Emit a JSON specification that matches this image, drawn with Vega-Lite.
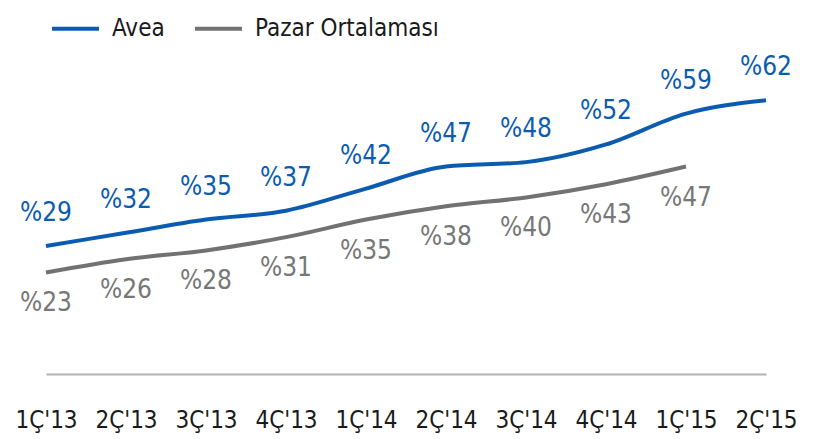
{
  "$schema": "https://vega.github.io/schema/vega-lite/v6.json",
  "autosize": "none",
  "width": 720,
  "height": 309,
  "padding": {"left": 46, "top": 65, "right": 51, "bottom": 65},
  "background": "white",
  "config": {"view": {"stroke": null}, "font": "DejaVu Sans Condensed, Roboto"},
  "data": {"values": [
    {"q": "1Ç'13", "s": "Avea", "v": 29},
    {"q": "2Ç'13", "s": "Avea", "v": 32},
    {"q": "3Ç'13", "s": "Avea", "v": 35},
    {"q": "4Ç'13", "s": "Avea", "v": 37},
    {"q": "1Ç'14", "s": "Avea", "v": 42},
    {"q": "2Ç'14", "s": "Avea", "v": 47},
    {"q": "3Ç'14", "s": "Avea", "v": 48},
    {"q": "4Ç'14", "s": "Avea", "v": 52},
    {"q": "1Ç'15", "s": "Avea", "v": 59},
    {"q": "2Ç'15", "s": "Avea", "v": 62},
    {"q": "1Ç'13", "s": "Pazar Ortalaması", "v": 23},
    {"q": "2Ç'13", "s": "Pazar Ortalaması", "v": 26},
    {"q": "3Ç'13", "s": "Pazar Ortalaması", "v": 28},
    {"q": "4Ç'13", "s": "Pazar Ortalaması", "v": 31},
    {"q": "1Ç'14", "s": "Pazar Ortalaması", "v": 35},
    {"q": "2Ç'14", "s": "Pazar Ortalaması", "v": 38},
    {"q": "3Ç'14", "s": "Pazar Ortalaması", "v": 40},
    {"q": "4Ç'14", "s": "Pazar Ortalaması", "v": 43},
    {"q": "1Ç'15", "s": "Pazar Ortalaması", "v": 47}
  ]},
  "encoding": {
    "x": {
      "field": "q", "type": "ordinal", "sort": null,
      "scale": {"type": "point", "padding": 0},
      "axis": {
        "title": null, "labelAngle": 0, "ticks": false, "grid": false,
        "domainColor": "#b3b3b3", "domainWidth": 2,
        "labelFontSize": 24, "labelColor": "#1a1a1a", "labelPadding": 34
      }
    },
    "y": {
      "field": "v", "type": "quantitative",
      "scale": {"domain": [0, 70], "nice": false},
      "axis": null
    }
  },
  "layer": [
    {
      "mark": {"type": "line", "interpolate": "monotone", "strokeWidth": 4},
      "encoding": {
        "color": {
          "field": "s", "type": "nominal",
          "scale": {"domain": ["Avea", "Pazar Ortalaması"], "range": ["#0b5cb0", "#727272"]},
          "legend": {
            "title": null, "orient": "none", "direction": "horizontal",
            "legendX": 4, "legendY": -62, "padding": 0,
            "symbolType": "stroke", "symbolSize": 2209, "symbolStrokeWidth": 4,
            "labelFontSize": 24, "labelColor": "#1a1a1a", "labelOffset": 11,
            "labelLimit": 0, "columnPadding": 22
          }
        }
      }
    },
    {
      "transform": [{"filter": "datum.s == 'Avea'"}],
      "mark": {"type": "text", "dy": -33, "baseline": "middle", "fontSize": 26, "color": "#0b5cb0", "text": {"expr": "'%' + datum.v"}}
    },
    {
      "transform": [{"filter": "datum.s != 'Avea'"}],
      "mark": {"type": "text", "dy": 31, "baseline": "middle", "fontSize": 26, "color": "#777777", "text": {"expr": "'%' + datum.v"}}
    }
  ]
}
